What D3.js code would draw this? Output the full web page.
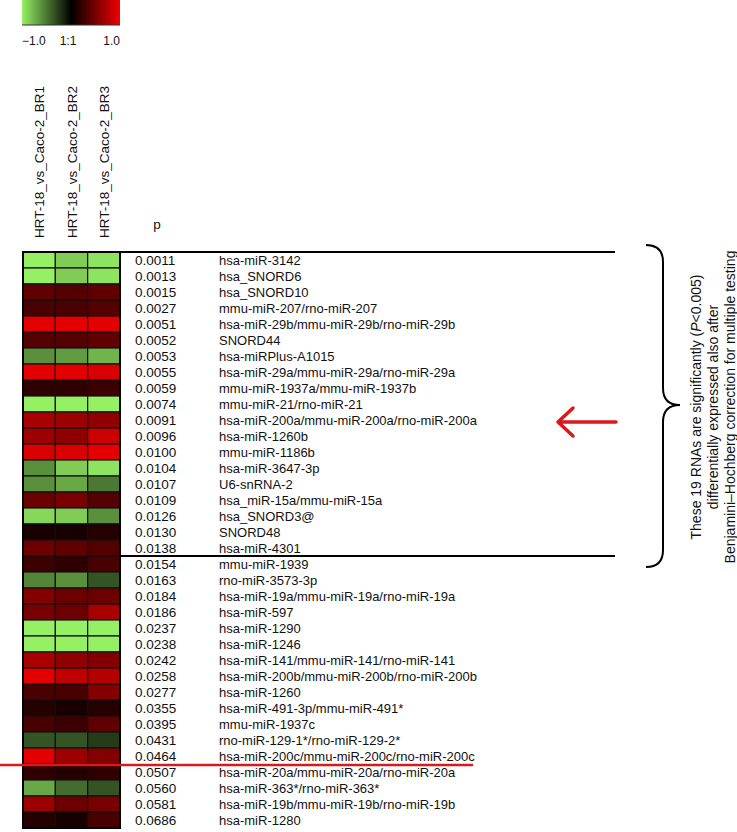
<!DOCTYPE html>
<html>
<head>
<meta charset="utf-8">
<script src="https://cdn.jsdelivr.net/npm/d3@7"></script>
<style>
  body { margin: 0; background: #fff; }
  text { font-family: "Liberation Sans", Arial, Helvetica, sans-serif; fill: #111; }
</style>
</head>
<body>
<script>
var width = 737;
var height = 832;

// column headers
var colLabels = ["HRT-18_vs_Caco-2_BR1", "HRT-18_vs_Caco-2_BR2", "HRT-18_vs_Caco-2_BR3"];

// p values and RNA names, in row order
var pValues = ["0.0011", "0.0013", "0.0015", "0.0027", "0.0051", "0.0052", "0.0053", "0.0055", "0.0059",
    "0.0074", "0.0091", "0.0096", "0.0100", "0.0104", "0.0107", "0.0109", "0.0126", "0.0130", "0.0138",
    "0.0154", "0.0163", "0.0184", "0.0186", "0.0237", "0.0238", "0.0242", "0.0258", "0.0277", "0.0355",
    "0.0395", "0.0431", "0.0464", "0.0507", "0.0560", "0.0581", "0.0686"];

var names = ["hsa-miR-3142", "hsa_SNORD6", "hsa_SNORD10", "mmu-miR-207/rno-miR-207",
    "hsa-miR-29b/mmu-miR-29b/rno-miR-29b", "SNORD44", "hsa-miRPlus-A1015",
    "hsa-miR-29a/mmu-miR-29a/rno-miR-29a", "mmu-miR-1937a/mmu-miR-1937b", "mmu-miR-21/rno-miR-21",
    "hsa-miR-200a/mmu-miR-200a/rno-miR-200a", "hsa-miR-1260b", "mmu-miR-1186b", "hsa-miR-3647-3p",
    "U6-snRNA-2", "hsa_miR-15a/mmu-miR-15a", "hsa_SNORD3@", "SNORD48", "hsa-miR-4301",
    "mmu-miR-1939", "rno-miR-3573-3p", "hsa-miR-19a/mmu-miR-19a/rno-miR-19a", "hsa-miR-597",
    "hsa-miR-1290", "hsa-miR-1246", "hsa-miR-141/mmu-miR-141/rno-miR-141",
    "hsa-miR-200b/mmu-miR-200b/rno-miR-200b", "hsa-miR-1260", "hsa-miR-491-3p/mmu-miR-491*",
    "mmu-miR-1937c", "rno-miR-129-1*/rno-miR-129-2*", "hsa-miR-200c/mmu-miR-200c/rno-miR-200c",
    "hsa-miR-20a/mmu-miR-20a/rno-miR-20a", "hsa-miR-363*/rno-miR-363*",
    "hsa-miR-19b/mmu-miR-19b/rno-miR-19b", "hsa-miR-1280"];

// log ratio per replicate (-1 green .. 0 black .. 1 red)
var br1 = [-1.0, -1.0, 0.40, 0.30, 0.95, 0.35, -0.60, 0.95, 0.20, -1.0, 0.70, 0.65, 0.90, -0.60, -0.60, 0.45,
    -0.90, 0.10, 0.45, 0.25, -0.55, 0.55, 0.50, -1.0, -1.0, 0.70, 0.95, 0.30, 0.15, 0.30, -0.35, 0.95,
    0.20, -0.70, 0.65, 0.15];
var br2 = [-0.85, -0.85, 0.35, 0.30, 0.95, 0.35, -0.65, 0.95, 0.20, -1.0, 0.65, 0.60, 0.90, -0.85, -0.70, 0.50,
    -0.85, 0.10, 0.40, 0.20, -0.60, 0.45, 0.45, -1.0, -1.0, 0.60, 0.80, 0.30, 0.10, 0.25, -0.35, 0.65,
    0.15, -0.45, 0.45, 0.10];
var br3 = [-0.95, -0.95, 0.40, 0.35, 0.95, 0.40, -0.75, 0.90, 0.25, -1.0, 0.60, 0.85, 0.95, -0.95, -0.50, 0.35,
    -0.60, 0.15, 0.35, 0.30, -0.35, 0.45, 0.70, -1.0, -1.0, 0.55, 0.75, 0.55, 0.15, 0.40, -0.25, 0.55,
    0.20, -0.35, 0.50, 0.30];

var legendTicks = [{v: -1, t: "\u22121.0"}, {v: 0, t: "1:1"}, {v: 1, t: "1.0"}];

var svg = d3.select("body").append("svg")
    .attr("width", width)
    .attr("height", height);

svg.append("rect").attr("width", width).attr("height", height).attr("fill", "#fff");

var green = "#96f064", red = "#f00000";
var color = d3.scaleLinear().domain([-1, 0, 1]).range([green, "#000", red]);

var rows = d3.range(names.length);
var yScale = d3.scaleBand().domain(rows).range([252, 828]);
var xScale = d3.scaleBand().domain(colLabels).range([23, 120]);

// legend
var defs = svg.append("defs");
var grad = defs.append("linearGradient").attr("id", "lg");
grad.selectAll("stop")
    .data([-1, -0.5, 0, 0.5, 1])
    .enter().append("stop")
    .attr("offset", function(d) { return ((d + 1) / 2 * 100) + "%"; })
    .attr("stop-color", function(d) { return color(d); });

var legX = d3.scaleLinear().domain([-1, 1]).range([22, 120]);
svg.append("rect")
    .attr("x", legX(-1))
    .attr("y", 0)
    .attr("width", legX(1) - legX(-1))
    .attr("height", 25)
    .attr("fill", "url(#lg)");
svg.append("line")
    .attr("x1", legX(-1)).attr("x2", legX(1))
    .attr("y1", 25).attr("y2", 25)
    .attr("stroke", "#333").attr("stroke-width", 1);

svg.selectAll(".legtick")
    .data(legendTicks)
    .enter().append("text")
    .attr("class", "legtick")
    .attr("x", function(d) { return d.v == 0 ? legX(d.v) - 3 : legX(d.v); })
    .attr("y", 45)
    .attr("font-size", 12)
    .attr("text-anchor", function(d) { return d.v == -1 ? "start" : (d.v == 1 ? "end" : "middle"); })
    .text(function(d) { return d.t; });

// column headers
svg.selectAll(".colLabel")
    .data(colLabels)
    .enter().append("text")
    .attr("class", "colLabel")
    .attr("font-size", 13.5)
    .attr("text-anchor", "start")
    .attr("transform", function(d) {
        return "translate(" + (xScale(d) + xScale.bandwidth() / 2 + 5) + ",238) rotate(-90)";
    })
    .text(function(d) { return d; });

svg.append("text")
    .attr("x", 157)
    .attr("y", 229)
    .attr("font-size", 13.5)
    .attr("text-anchor", "middle")
    .text("p");

// heatmap cells
var cells = [];
rows.forEach(function(i) {
    cells.push({row: i, col: colLabels[0], v: br1[i]});
    cells.push({row: i, col: colLabels[1], v: br2[i]});
    cells.push({row: i, col: colLabels[2], v: br3[i]});
});

svg.selectAll(".cell")
    .data(cells)
    .enter().append("rect")
    .attr("class", "cell")
    .attr("x", function(d) { return xScale(d.col); })
    .attr("y", function(d) { return yScale(d.row); })
    .attr("width", xScale.bandwidth())
    .attr("height", yScale.bandwidth())
    .attr("fill", function(d) { return color(d.v); })
    .attr("stroke", "#111")
    .attr("stroke-width", 1.2);

svg.append("rect")
    .attr("x", 23).attr("y", 252)
    .attr("width", 97).attr("height", yScale.range()[1] - 252)
    .attr("fill", "none")
    .attr("stroke", "#000")
    .attr("stroke-width", 2);

// p values and names
svg.selectAll(".pval")
    .data(rows)
    .enter().append("text")
    .attr("class", "pval")
    .attr("x", 135)
    .attr("y", function(i) { return yScale(i) + yScale.bandwidth() / 2; })
    .attr("dy", "0.36em")
    .attr("font-size", 13.5)
    .text(function(i) { return pValues[i]; });

svg.selectAll(".name")
    .data(rows)
    .enter().append("text")
    .attr("class", "name")
    .attr("x", 219)
    .attr("y", function(i) { return yScale(i) + yScale.bandwidth() / 2; })
    .attr("dy", "0.36em")
    .attr("font-size", 13)
    .text(function(i) { return names[i]; });

// significance bracket lines
[0, 19].forEach(function(i) {
    svg.append("line")
        .attr("x1", 120).attr("x2", 615)
        .attr("y1", yScale(i)).attr("y2", yScale(i))
        .attr("stroke", "#000").attr("stroke-width", 2);
});

// red cut-off line at p = 0.05
svg.append("line")
    .attr("x1", 0).attr("x2", 473)
    .attr("y1", yScale(32) + 1).attr("y2", yScale(32) + 1)
    .attr("stroke", "#d91a1a").attr("stroke-width", 2.5);

// arrow pointing at miR-200a
var ay = yScale(10) + yScale.bandwidth() / 2 + 2;
svg.append("path")
    .attr("d", "M558," + ay + "L616," + ay + "M573," + (ay - 14) + "L558," + ay + "L573," + (ay + 14))
    .attr("fill", "none")
    .attr("stroke", "#d91a1a")
    .attr("stroke-width", 3.5)
    .attr("stroke-linecap", "round")
    .attr("stroke-linejoin", "round");

// curly brace
var bt = 245, bb = 567, bm = 405;
svg.append("path")
    .attr("d", "M646," + bt + " Q663," + bt + " 663," + (bt + 17) +
        " L663," + (bm - 17) + " Q663," + bm + " 680," + bm +
        " Q663," + bm + " 663," + (bm + 17) +
        " L663," + (bb - 17) + " Q663," + bb + " 646," + bb)
    .attr("fill", "none")
    .attr("stroke", "#000")
    .attr("stroke-width", 2);

var note = svg.append("g")
    .attr("transform", "translate(0," + 407 + ")");

var l1 = note.append("text")
    .attr("font-size", 14)
    .attr("text-anchor", "middle")
    .attr("transform", "translate(701,0) rotate(-90)");
l1.append("tspan").text("These 19 RNAs are significantly (");
l1.append("tspan").attr("font-style", "italic").text("P");
l1.append("tspan").text("<0.005)");

note.append("text")
    .attr("font-size", 14)
    .attr("text-anchor", "middle")
    .attr("transform", "translate(718,0) rotate(-90)")
    .text("differentially expressed also after");

note.append("text")
    .attr("font-size", 14)
    .attr("text-anchor", "middle")
    .attr("transform", "translate(735,0) rotate(-90)")
    .text("Benjamini\u2013Hochberg correction for multiple testing");
</script>
</body>
</html>
